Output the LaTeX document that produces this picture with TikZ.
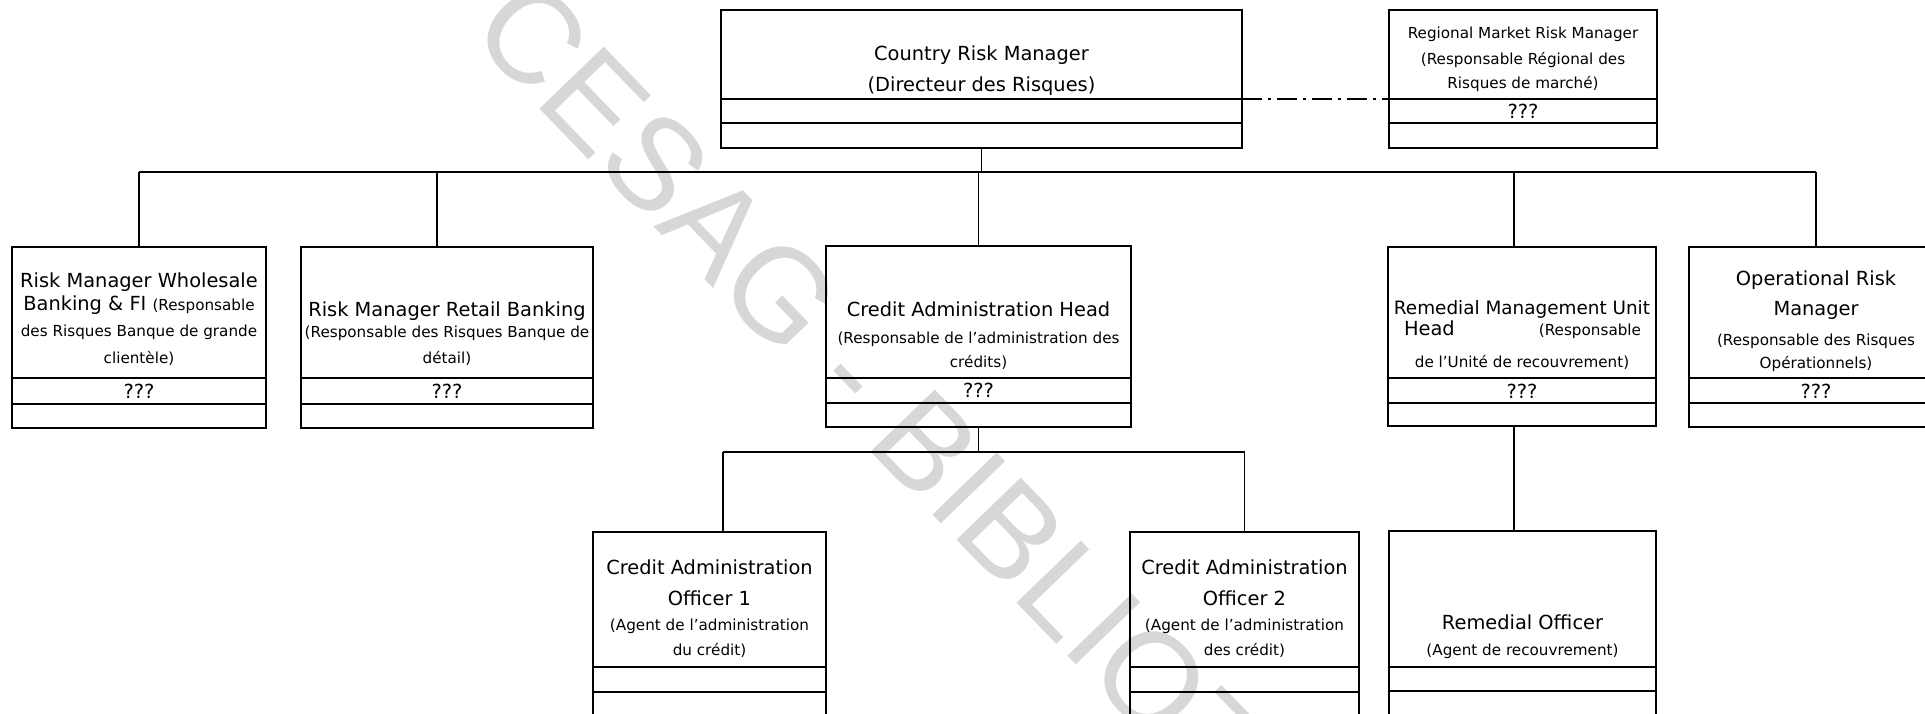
\documentclass[tikz,border=0pt]{standalone}
\usepackage{fontspec}
\setmainfont{DejaVu Sans}
\newfontfamily\wmfont{Liberation Sans}
\definecolor{wmgray}{RGB}{215,215,215}
\newcommand\BigT{\fontsize{9.7}{11}\selectfont}
\newcommand\SmallT{\fontsize{7.6}{9}\selectfont}
\newcommand\OrgBox[7]{%
  \node[box, minimum width={(#4-#2)*0.5pt}, minimum height={(#5-#3)*0.5pt}] (#1) at ({(#2+#4)/2},{(#3+#5)/2}) {};
  \draw[link] (#1.west |- 0,#6) -- (#1.east |- 0,#6);
  \draw[link] (#1.west |- 0,#7) -- (#1.east |- 0,#7);
}
\tikzset{
  box/.style={draw, line width=0.85pt, inner sep=0pt, outer sep=0pt},
  link/.style={line width=0.85pt},
  bigt/.style={font=\BigT, inner sep=0pt, anchor=base},
  smallt/.style={font=\SmallT, inner sep=0pt, anchor=base},
}
\begin{document}
\begin{tikzpicture}[x=0.5pt,y=-0.5pt]
\useasboundingbox (0,0) rectangle (1925,713);
\fill[white] (0,0) rectangle (1925,713);
\clip (0,0) rectangle (1925,713);

% watermark
\node[font=\wmfont\fontsize{65}{65}\selectfont, text=wmgray, rotate=-46, anchor=west, inner sep=0pt, text depth=0pt] (wmark) at (500,2) {CESAG - BIBLIOTHEQUE};

% boxes
\OrgBox{cr}{721}{10}{1242}{148}{99}{123}
\OrgBox{rm}{1389}{10}{1657}{148}{99}{123}
\OrgBox{wh}{12}{247}{266}{428}{378}{404}
\OrgBox{rt}{301}{247}{593}{428}{378}{404}
\OrgBox{ca}{826}{246}{1131}{427}{378}{403}
\OrgBox{rh}{1388}{247}{1656}{426}{378}{403}
\OrgBox{op}{1689}{247}{1943}{427}{378}{403}
\OrgBox{c1}{593}{532}{826}{760}{667}{692}
\OrgBox{c2}{1130}{532}{1359}{760}{667}{692}
\OrgBox{ro}{1389}{531}{1656}{760}{667}{691}

% connectors
\coordinate (bus) at (0,172);
\coordinate (sub) at (0,452);
\draw[link] (cr.south) -- (cr.south |- bus);
\draw[link] (wh.north |- bus) -- (op.north |- bus);
\draw[link] (wh.north) -- (wh.north |- bus);
\draw[link] ([xshift=-5pt]rt.north) -- ([xshift=-5pt]rt.north |- bus);
\draw[link] (ca.north) -- (ca.north |- bus);
\draw[link] ([xshift=-4pt]rh.north) -- ([xshift=-4pt]rh.north |- bus);
\draw[link] (op.north) -- (op.north |- bus);
\draw[link] (ca.south) -- (ca.south |- sub);
\draw[link] ([xshift=6.75pt]c1.north |- sub) -- (c2.north |- sub);
\draw[link] ([xshift=6.75pt]c1.north) -- ([xshift=6.75pt]c1.north |- sub);
\draw[link] (c2.north) -- (c2.north |- sub);
\draw[link] ([xshift=-4pt]rh.south) -- ([xshift=-4pt]rh.south |- ro.north);
\draw[link, dash pattern=on 10pt off 3pt on 1.5pt off 3pt] (cr.east |- 0,99) -- (rm.west |- 0,99);

% texts: Country Risk Manager
\node[bigt] (cr1) at (981.5,60) {Country Risk Manager};
\node[bigt] (cr2) at (981.5,91) {(Directeur des Risques)};
% Regional Market Risk Manager
\node[smallt] (rm1) at (1523,38) {Regional Market Risk Manager};
\node[smallt] (rm2) at (1523,64) {(Responsable Régional des};
\node[smallt] (rm3) at (1523,88) {Risques de marché)};
\node[bigt] (rm4) at (1523,118) {???};
% Wholesale
\node[bigt] (wh1) at (139,287) {Risk Manager Wholesale};
\node[bigt] (wh2) at (139,310) {Banking \& FI {\SmallT(Responsable}};
\node[smallt] (wh3) at (139,336) {des Risques Banque de grande};
\node[smallt] (wh4) at (139,363) {clientèle)};
\node[bigt] (wh5) at (139,398) {???};
% Retail
\node[bigt] (rt1) at (447,316) {Risk Manager Retail Banking};
\node[smallt] (rt2) at (447,337) {(Responsable des Risques Banque de};
\node[smallt] (rt3) at (447,363) {détail)};
\node[bigt] (rt4) at (447,398) {???};
% Credit Administration Head
\node[bigt] (ca1) at (978.5,316) {Credit Administration Head};
\node[smallt] (ca2) at (978.5,343) {(Responsable de l'administration des};
\node[smallt] (ca3) at (978.5,367) {crédits)};
\node[bigt] (ca4) at (978.5,397) {???};
% Remedial Management Unit Head
\node[bigt, font=\fontsize{9.2}{11}\selectfont] (rh1) at (1522,314) {Remedial Management Unit};
\node[bigt] (rh2) at (1522.5,335) {\makebox[118.5pt]{Head\hfill{\SmallT(Responsable}}};
\node[smallt] (rh3) at (1522,367) {de l'Unité de recouvrement)};
\node[bigt] (rh4) at (1522,398) {???};
% Operational Risk Manager
\node[bigt] (op1) at (1816,285) {Operational Risk};
\node[bigt] (op2) at (1816,315) {Manager};
\node[smallt] (op3) at (1816,345) {(Responsable des Risques};
\node[smallt] (op4) at (1816,368) {Opérationnels)};
\node[bigt] (op5) at (1816,398) {???};
% Credit Administration Officer 1
\node[bigt] (c11) at (709.5,574) {Credit Administration};
\node[bigt] (c12) at (709.5,605) {Officer 1};
\node[smallt] (c13) at (709.5,630) {(Agent de l'administration};
\node[smallt] (c14) at (709.5,655) {du crédit)};
% Credit Administration Officer 2
\node[bigt] (c21) at (1244.5,574) {Credit Administration};
\node[bigt] (c22) at (1244.5,605) {Officer 2};
\node[smallt] (c23) at (1244.5,630) {(Agent de l'administration};
\node[smallt] (c24) at (1244.5,655) {des crédit)};
% Remedial Officer
\node[bigt] (ro1) at (1522.5,629) {Remedial Officer};
\node[smallt] (ro2) at (1522.5,655) {(Agent de recouvrement)};
\end{tikzpicture}
\end{document}
